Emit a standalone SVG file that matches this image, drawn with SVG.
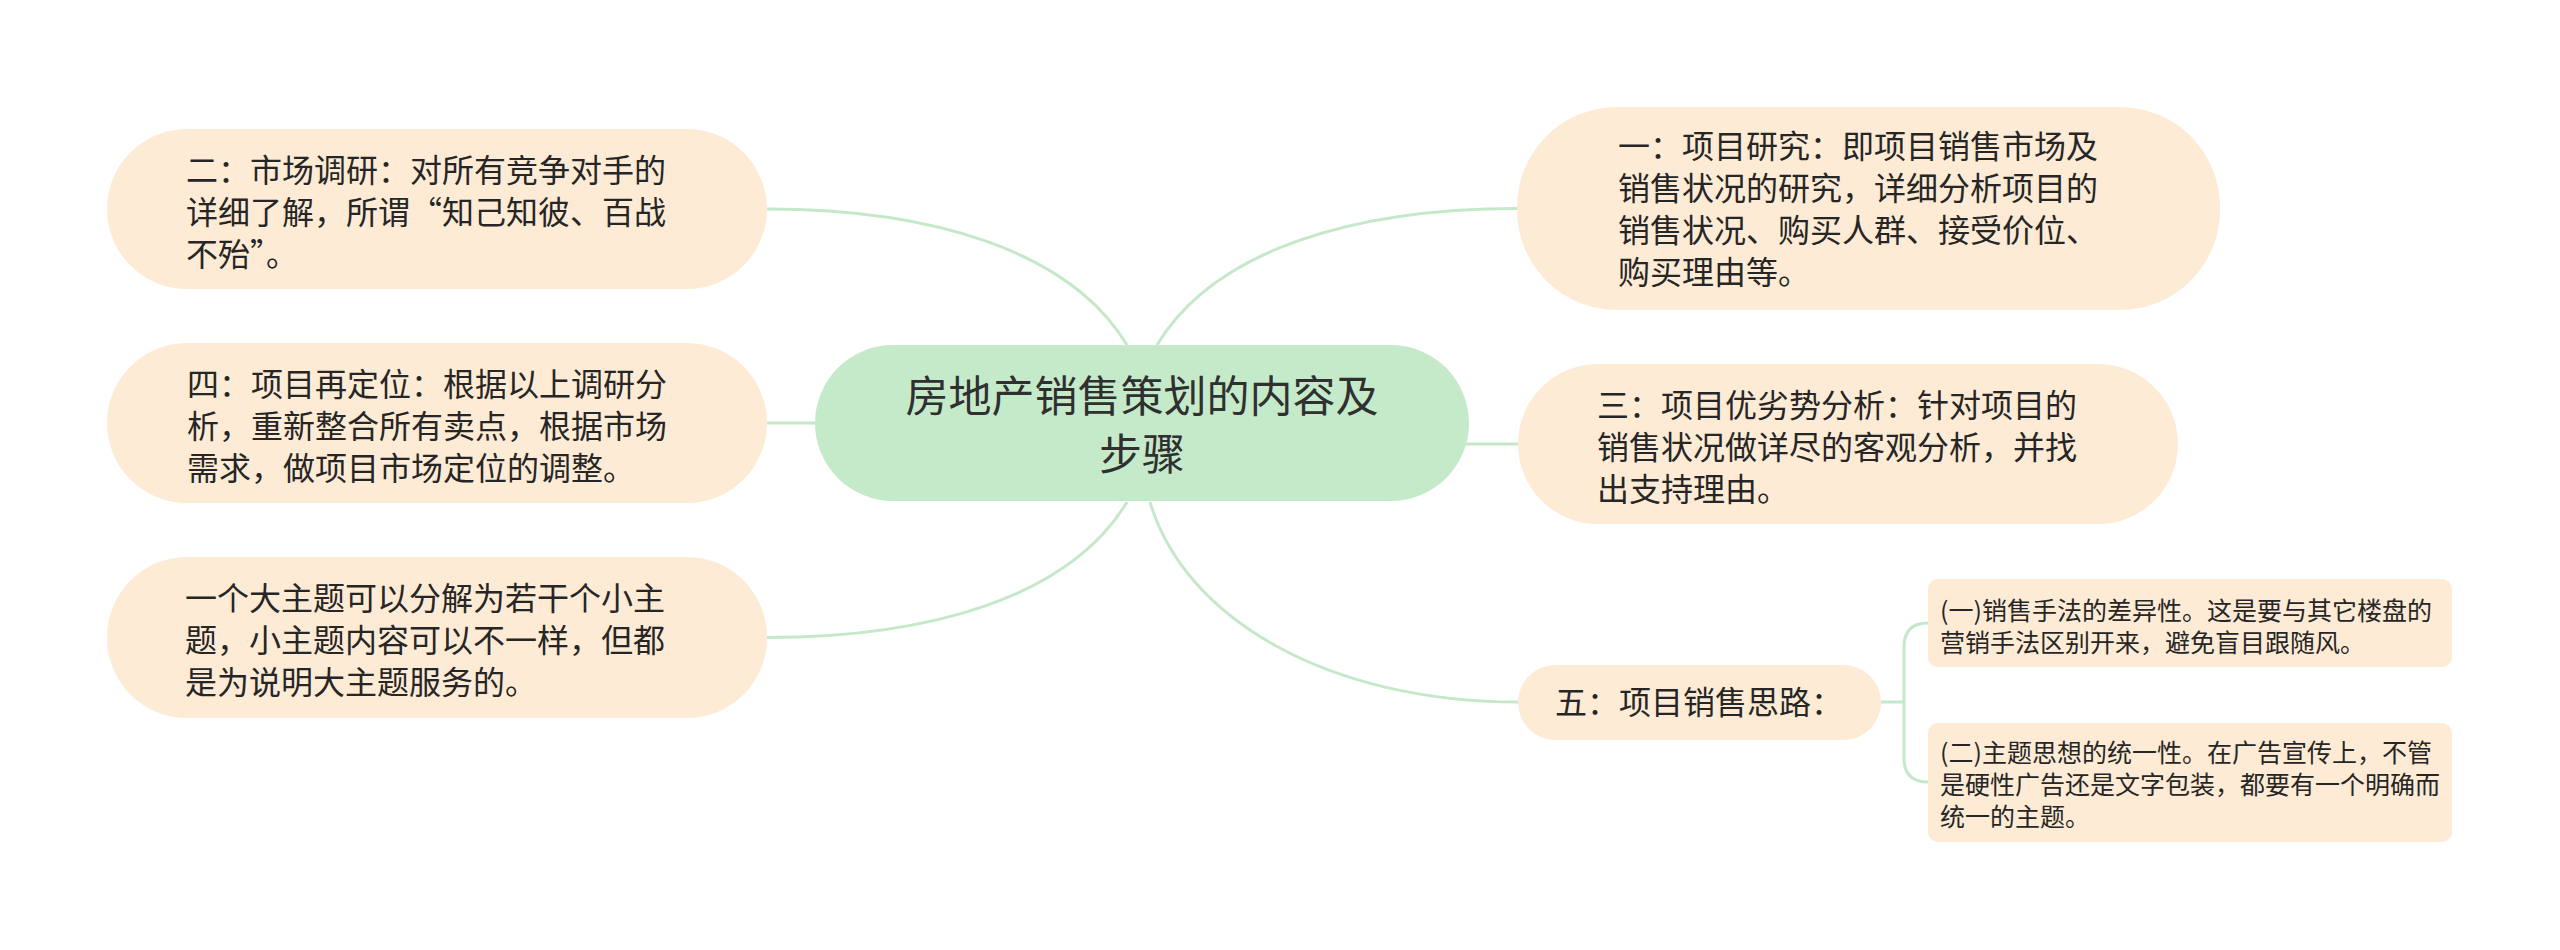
<svg xmlns="http://www.w3.org/2000/svg" width="2560" height="950" viewBox="0 0 2560 950">
<style>
.leaf{fill:#fdebd5}
.root{fill:#c5eaca}
.t{font-family:"Noto Sans CJK SC","Noto Sans",sans-serif;fill:#262626}
.t32{font-size:32px}
.t25{font-size:25px}
.t43{font-size:43px;fill:#303030}
.c{fill:none;stroke:#c5e8ca;stroke-width:3}
</style>
<rect width="2560" height="950" fill="#ffffff"/>
<g id="connectors">
<path class="c" d="M1127,345 C1070,250 930,209 767,209"/>
<path class="c" d="M1157,345 C1214,250 1354,208.5 1517,208.5"/>
<path class="c" d="M815,423 L767,423"/>
<path class="c" d="M1466,444 L1518,444"/>
<path class="c" d="M1127,502 C1070,597 930,637.5 767,637.5"/>
<path class="c" d="M1150,502 C1185,620 1330,702 1518,702"/>
<path class="c" d="M1881,702 L1904,702 M1904,702 L1904,647 Q1904,623 1928,623 M1904,702 L1904,758 Q1904,782 1928,782"/>
</g>
<g id="root">
<rect class="root" x="815" y="345" width="654" height="156" rx="78"/>
<text class="t t43" text-anchor="middle"><tspan x="1142" y="412">房地产销售策划的内容及</tspan><tspan x="1142" y="470">步骤</tspan></text>
</g>
<g id="n2">
<rect class="leaf" x="107" y="129" width="660" height="160" rx="80"/>
<text class="t t32"><tspan x="186" y="182">二：市场调研：对所有竞争对手的</tspan><tspan x="186" y="224">详细了解，所谓“知己知彼、百战</tspan><tspan x="186" y="266">不殆”。</tspan></text>
</g>
<g id="n4">
<rect class="leaf" x="107" y="343" width="660" height="160" rx="80"/>
<text class="t t32"><tspan x="187" y="396">四：项目再定位：根据以上调研分</tspan><tspan x="187" y="438">析，重新整合所有卖点，根据市场</tspan><tspan x="187" y="480">需求，做项目市场定位的调整。</tspan></text>
</g>
<g id="n6">
<rect class="leaf" x="107" y="557" width="660" height="161" rx="80"/>
<text class="t t32"><tspan x="185" y="610">一个大主题可以分解为若干个小主</tspan><tspan x="185" y="652">题，小主题内容可以不一样，但都</tspan><tspan x="185" y="694">是为说明大主题服务的。</tspan></text>
</g>
<g id="n1">
<rect class="leaf" x="1517" y="107" width="703" height="203" rx="100"/>
<text class="t t32"><tspan x="1618" y="158">一：项目研究：即项目销售市场及</tspan><tspan x="1618" y="200">销售状况的研究，详细分析项目的</tspan><tspan x="1618" y="242">销售状况、购买人群、接受价位、</tspan><tspan x="1618" y="284">购买理由等。</tspan></text>
</g>
<g id="n3">
<rect class="leaf" x="1518" y="364" width="660" height="160" rx="80"/>
<text class="t t32"><tspan x="1597" y="417">三：项目优劣势分析：针对项目的</tspan><tspan x="1597" y="459">销售状况做详尽的客观分析，并找</tspan><tspan x="1597" y="501">出支持理由。</tspan></text>
</g>
<g id="n5">
<rect class="leaf" x="1518" y="665" width="363" height="75" rx="37.5"/>
<text class="t t32"><tspan x="1555" y="714">五：项目销售思路：</tspan></text>
</g>
<g id="n5a">
<rect class="leaf" x="1928" y="579" width="524" height="88" rx="10"/>
<text class="t t25"><tspan x="1940" y="620">(一)销售手法的差异性。这是要与其它楼盘的</tspan><tspan x="1940" y="652">营销手法区别开来，避免盲目跟随风。</tspan></text>
</g>
<g id="n5b">
<rect class="leaf" x="1928" y="723" width="524" height="119" rx="10"/>
<text class="t t25"><tspan x="1940" y="762">(二)主题思想的统一性。在广告宣传上，不管</tspan><tspan x="1940" y="794">是硬性广告还是文字包装，都要有一个明确而</tspan><tspan x="1940" y="826">统一的主题。</tspan></text>
</g>
</svg>
